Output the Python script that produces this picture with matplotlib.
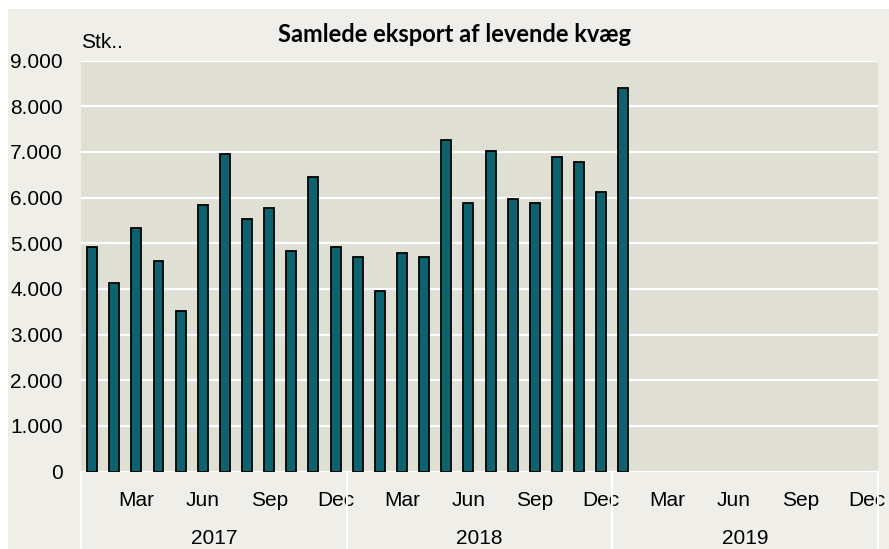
import matplotlib
matplotlib.use("Agg")
import matplotlib.pyplot as plt
from matplotlib.patches import Rectangle
from matplotlib.lines import Line2D

# months Jan 2017 .. Jan 2019 (stk.)
values = [4910, 4130, 5340, 4610, 3520, 5830, 6950, 5530, 5780, 4830, 6440, 4910,
          4690, 3960, 4780, 4690, 7260, 5870, 7010, 5960, 5880, 6880, 6780, 6130,
          8390]
years = ["2017", "2018", "2019"]
month_labels = ["Mar", "Jun", "Sep", "Dec"]
n_months = 36

W, H = 889, 549
fig = plt.figure(figsize=(W / 100, H / 100), dpi=100, facecolor="white")
fig.patches.append(Rectangle((8 / W, 0), 1 - 8 / W, 1 - 9 / H, transform=fig.transFigure,
                             facecolor="#EFEEE8", edgecolor="none", zorder=-10))

left, right, top, bottom = 81, 878, 60.5, 471.5
ax = fig.add_axes([left / W, 1 - bottom / H, (right - left) / W, (bottom - top) / H])
ax.set_facecolor("#E0DFD4")

x = list(range(len(values)))
ax.bar(x, values, width=0.45, color="#0A6470", edgecolor="black", linewidth=1.3, zorder=3)

ax.set_xlim(-0.5, n_months - 0.5)
ax.set_ylim(0, 9000)
ax.set_yticks(range(0, 9001, 1000))
ax.set_yticklabels(["0" if v == 0 else f"{v // 1000}.000" for v in range(0, 9001, 1000)])
ax.yaxis.grid(True, color="white", linewidth=1.6, zorder=1)
ax.set_axisbelow(True)
for s in ax.spines.values():
    s.set_visible(False)

ticks = [y * 12 + m for y in range(len(years)) for m in (2, 5, 8, 11)]
ax.set_xticks(ticks)
ax.set_xticklabels(month_labels * len(years))
ax.tick_params(axis="both", length=0, labelsize=15, colors="black")
ax.tick_params(axis="x", pad=14)
ax.tick_params(axis="y", pad=13)
for lab in ax.get_xticklabels() + ax.get_yticklabels():
    lab.set_fontfamily("Liberation Sans")

trans = ax.get_xaxis_transform()
for i, yr in enumerate(years):
    ax.text(i * 12 + 5.5, -0.162, yr, transform=trans, ha="center", va="center",
            fontsize=15, family="Liberation Sans", clip_on=False)
for i in range(len(years) + 1):
    ax.add_line(Line2D([i * 12 - 0.5, i * 12 - 0.5], [0, -0.2], transform=trans,
                       color="white", linewidth=1.5, clip_on=False))

fig.text(left / W, 1 - 42 / H, "Stk..", ha="left", va="center", fontsize=15,
         family="Liberation Sans")
fig.text(455 / W, 1 - 35 / H, "Samlede eksport af levende kvæg", ha="center", va="center",
         fontsize=17, fontweight="bold", family="Lato")

fig.savefig("out.png", dpi=100, facecolor=fig.get_facecolor())
